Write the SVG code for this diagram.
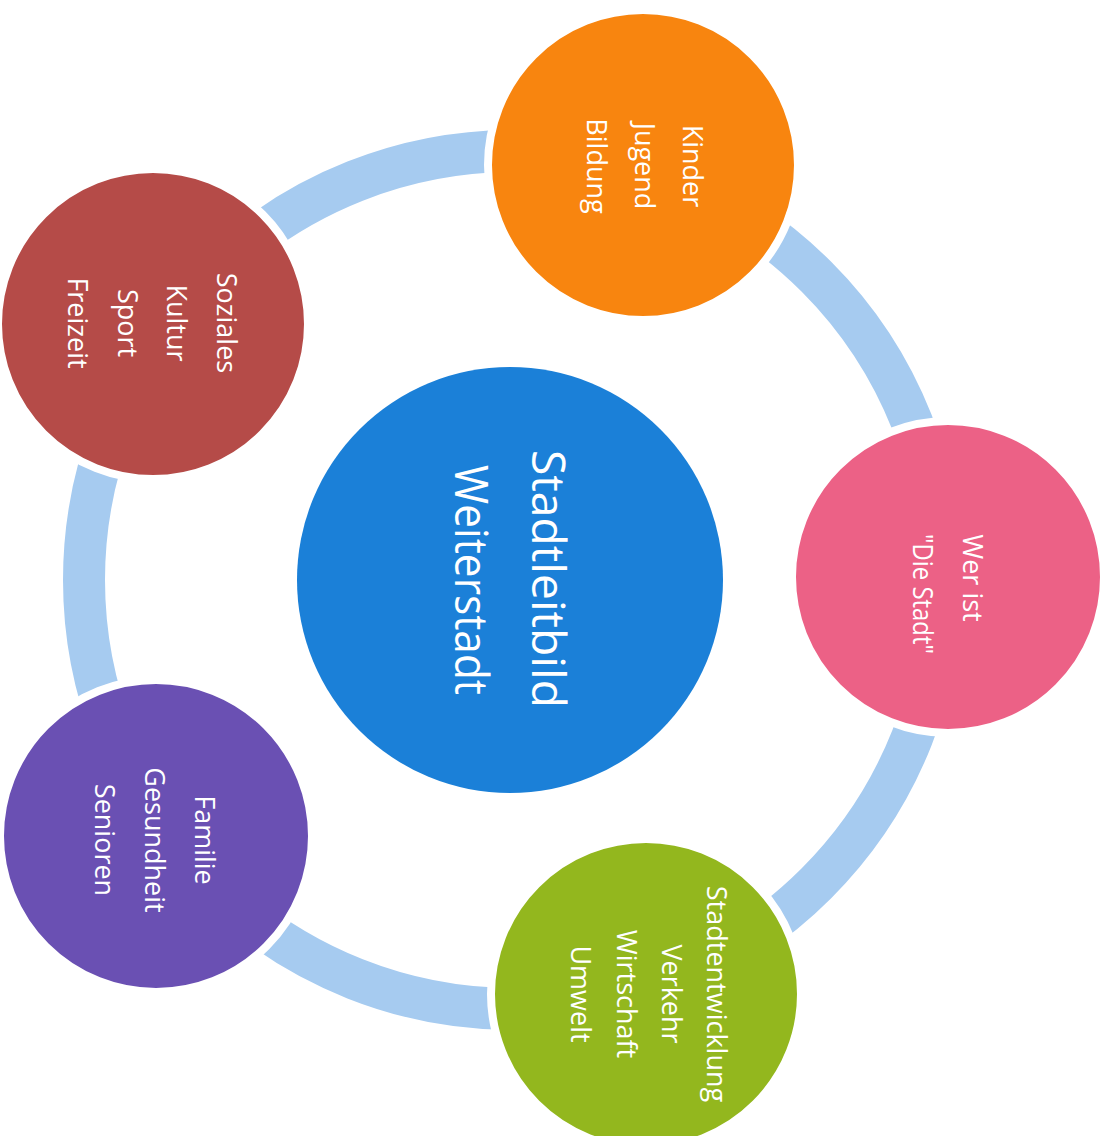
<svg xmlns="http://www.w3.org/2000/svg" width="1111" height="1136" viewBox="0 0 1111 1136">
  <style>
    .ring { fill: none; stroke: #a6cbf0; stroke-width: 42; }
    .node { stroke: #ffffff; stroke-width: 8; }
    .lbl { fill: #ffffff; font-family: "Open Sans", "Noto Sans", sans-serif; text-anchor: middle; }
    .small { font-size: 27px; }
    .big { font-size: 46px; }
  </style>
  <rect x="0" y="0" width="1111" height="1136" fill="#ffffff"/>
  <g id="connectors">
    <circle class="ring" cx="513" cy="580" r="429"/>
  </g>
  <g id="node-center">
    <circle cx="510" cy="580" r="213" fill="#1b80d8"/>
    <g transform="translate(532,579) rotate(90)">
      <text class="lbl big" x="0" y="0" textLength="258" lengthAdjust="spacingAndGlyphs">Stadtleitbild</text>
    </g>
    <g transform="translate(455,580) rotate(90)">
      <text class="lbl big" x="0" y="0" textLength="230" lengthAdjust="spacingAndGlyphs">Weiterstadt</text>
    </g>
  </g>
  <g id="node-kinder">
    <circle class="node" cx="643" cy="165" r="155" fill="#f8850f"/>
    <g transform="translate(683,166) rotate(90)">
      <text class="lbl small" x="0" y="0">Kinder</text>
      <text class="lbl small" x="0" y="48">Jugend</text>
      <text class="lbl small" x="0" y="96">Bildung</text>
    </g>
  </g>
  <g id="node-wer">
    <circle class="node" cx="948" cy="577" r="156" fill="#ec6186"/>
    <g transform="translate(963,578) rotate(90)">
      <text class="lbl small" x="0" y="0">Wer ist</text>
      <text class="lbl small" x="16" y="50" textLength="120" lengthAdjust="spacingAndGlyphs">"Die Stadt"</text>
    </g>
  </g>
  <g id="node-stadtentwicklung">
    <circle class="node" cx="646" cy="994" r="155" fill="#93b71e"/>
    <g transform="translate(707,994) rotate(90)">
      <text class="lbl small" x="0" y="0">Stadtentwicklung</text>
      <text class="lbl small" x="0" y="45">Verkehr</text>
      <text class="lbl small" x="0" y="90">Wirtschaft</text>
      <text class="lbl small" x="0" y="136">Umwelt</text>
    </g>
  </g>
  <g id="node-familie">
    <circle class="node" cx="156" cy="836" r="156" fill="#6a50b3"/>
    <g transform="translate(195,840) rotate(90)">
      <text class="lbl small" x="0" y="0">Familie</text>
      <text class="lbl small" x="0" y="50">Gesundheit</text>
      <text class="lbl small" x="0" y="100">Senioren</text>
    </g>
  </g>
  <g id="node-soziales">
    <circle class="node" cx="153" cy="324" r="155" fill="#b54b48"/>
    <g transform="translate(217,323) rotate(90)">
      <text class="lbl small" x="0" y="0">Soziales</text>
      <text class="lbl small" x="0" y="50">Kultur</text>
      <text class="lbl small" x="0" y="99">Sport</text>
      <text class="lbl small" x="0" y="149">Freizeit</text>
    </g>
  </g>
</svg>
